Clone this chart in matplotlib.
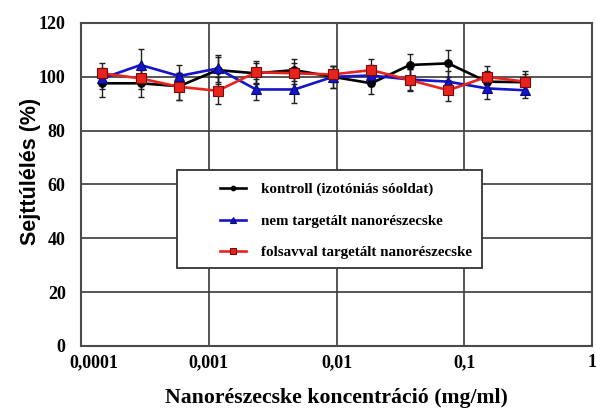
import numpy as np
import matplotlib
matplotlib.use("Agg")
import matplotlib.pyplot as plt
import matplotlib.transforms as mtransforms
from matplotlib.patches import Rectangle
from matplotlib.ticker import FixedLocator, NullLocator

# Concentrations: two-fold dilution series starting at 0.3 mg/ml
conc = [0.3 / 2 ** k for k in range(11, -1, -1)]

kontroll = [97.6, 97.6, 96.5, 102.5, 101.3, 102.5, 100.0, 97.6, 104.4, 105.0, 98.2, 98.0]
kontroll_err = [5, 5, 5, 5, 4, 4, 4, 4, 4, 5, 4, 3]

nem_target = [99.4, 104.4, 100.3, 103.1, 95.3, 95.3, 100.0, 100.5, 99.0, 98.2, 95.7, 95.0]
nem_target_err = [4, 6, 4, 5, 4, 5, 4, 4, 4, 4, 4, 3]

folsav = [101.3, 99.4, 96.3, 94.8, 101.7, 101.3, 100.9, 102.5, 98.8, 95.0, 100.0, 98.2]
folsav_err = [4, 4, 5, 5, 4, 4, 3, 4, 4, 4, 4, 4]

labels = ["kontroll (izotóniás sóoldat)",
          "nem targetált nanorészecske",
          "folsavval targetált nanorészecske"]

x_ticks = [0.0001, 0.001, 0.01, 0.1, 1]
x_ticklabels = ["0,0001", "0,001", "0,01", "0,1", "1"]
y_ticks = [0, 20, 40, 60, 80, 100, 120]

serif = ["Liberation Serif", "DejaVu Serif"]
sans = ["Liberation Sans", "DejaVu Sans"]

fig = plt.figure(figsize=(5.96, 4.12), dpi=100)
ax = fig.add_axes([0.1359, 0.1602, 0.8574, 0.7840])

ax.set_xscale("log")
ax.set_xlim(0.0001, 1)
ax.set_ylim(0, 120)

grid_col = "#3a3a3a"
for v in x_ticks[1:-1]:
    ax.axvline(v, color=grid_col, lw=1.2, zorder=1)
for v in y_ticks[1:-1]:
    ax.axhline(v, color=grid_col, lw=1.2, zorder=1)

series = [
    (kontroll, kontroll_err, "#000000", "o", 5.5, "#000000"),
    (nem_target, nem_target_err, "#1414c8", "^", 6.5, "#0a0a80"),
    (folsav, folsav_err, "#e8231c", "s", 7.5, "#7a0a0a"),
]
handles = []
for (vals, err, col, mk, ms, edge), lab in zip(series, labels):
    ax.errorbar(conc, vals, yerr=err, fmt="none", ecolor="#202020",
                elinewidth=1.0, capsize=2.5, capthick=1.0, zorder=3)
    h, = ax.plot(conc, vals, color=col, lw=1.9, marker=mk, ms=ms,
                 markerfacecolor=col, markeredgecolor=edge, mew=0.8,
                 zorder=4, label=lab)
    handles.append(h)

ax.xaxis.set_major_locator(FixedLocator(x_ticks))
ax.xaxis.set_minor_locator(NullLocator())
ax.set_xticklabels(x_ticklabels)
ax.set_yticks(y_ticks)
ax.tick_params(axis="both", length=0, labelsize=13)
ax.tick_params(axis="x", pad=6)
ax.tick_params(axis="y", pad=11)
for t in ax.get_xticklabels() + ax.get_yticklabels():
    t.set_fontfamily(serif)
    t.set_fontweight("bold")

# nudge the leftmost x tick label clear of the y axis labels
first = ax.get_xticklabels()[0]
first.set_transform(first.get_transform() +
                    mtransforms.ScaledTranslation(13 / 100, 0, fig.dpi_scale_trans))

for s in ax.spines.values():
    s.set_color("#4a4a4a")
    s.set_linewidth(1.5)

ax.set_xlabel("Nanorészecske koncentráció (mg/ml)", fontsize=15.7,
              fontweight="bold", family=serif, labelpad=12)
ax.set_ylabel("Sejttúlélés (%)", fontsize=15.5, fontweight="bold",
              family=sans)
ax.yaxis.set_label_coords(-0.079, 0.539)

# legend: white framed box with the entries set towards its right side
box = Rectangle((0.188, 0.241), 0.597, 0.304, transform=ax.transAxes,
                facecolor="white", edgecolor="#333333", lw=1.3, zorder=5)
ax.add_patch(box)
leg = ax.legend(handles=handles, loc="center left",
                bbox_to_anchor=(0.272, 0.387),
                prop={"family": serif, "weight": "bold", "size": 10.8},
                frameon=False, handlelength=1.75, handletextpad=1.0,
                labelspacing=1.2, borderpad=0, borderaxespad=0,
                markerscale=0.6)
leg.set_zorder(6)

fig.savefig("out.png", dpi=100)
